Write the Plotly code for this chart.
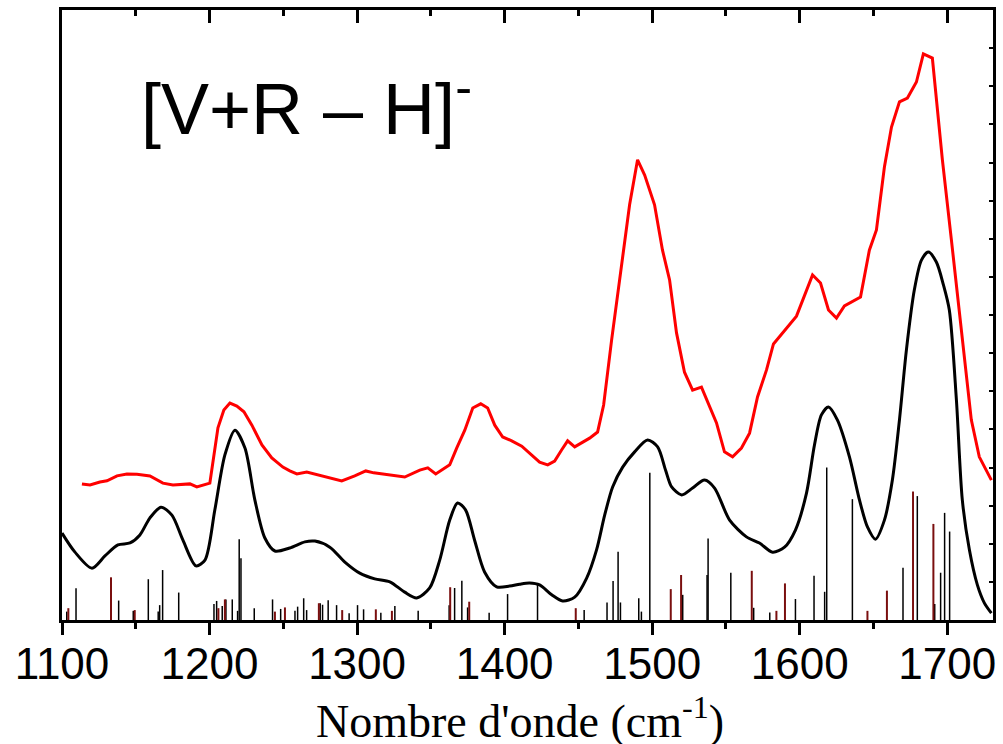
import plotly.graph_objects as go

# ---- data (wavenumber cm-1, arbitrary intensity) ----
calc_wn = [1100.0, 1108.8, 1120.3, 1129.1, 1137.9, 1146.1, 1152.8, 1159.6, 1167.1, 1174.5,
           1181.9, 1190.8, 1196.9, 1203.6, 1210.4, 1217.2, 1224.0, 1230.7, 1237.5, 1244.3,
           1254.4, 1264.6, 1271.4, 1281.5, 1291.7, 1301.8, 1312.0, 1322.2, 1332.3, 1340.4,
           1349.2, 1356.0, 1362.8, 1368.1, 1373.5, 1379.6, 1386.4, 1394.6, 1403.4, 1410.2,
           1416.9, 1423.7, 1431.9, 1439.3, 1447.5, 1455.6, 1462.3, 1467.8, 1473.2, 1480.0,
           1488.1, 1496.9, 1503.7, 1509.1, 1513.2, 1520.0, 1527.4, 1535.5, 1542.3, 1552.5,
           1563.9, 1572.7, 1581.6, 1589.7, 1597.1, 1604.6, 1610.0, 1614.7, 1619.5, 1625.5,
           1633.7, 1640.5, 1645.9, 1651.3, 1657.4, 1662.8, 1667.6, 1672.3, 1677.7, 1682.5,
           1687.2, 1692.6, 1697.4, 1701.4, 1706.2, 1710.2, 1715.0, 1720.4, 1725.1, 1729.9]
calc_int = [2.28, 1.78, 1.36, 1.68, 1.97, 2.02, 2.23, 2.68, 2.96, 2.75,
            2.10, 1.42, 1.57, 2.89, 4.33, 4.98, 4.51, 3.15, 2.15, 1.81,
            1.89, 2.05, 2.07, 1.91, 1.52, 1.23, 1.08, 1.00, 0.73, 0.58,
            0.84, 1.57, 2.62, 3.07, 2.89, 2.10, 1.26, 0.87, 0.89, 0.94,
            0.97, 0.92, 0.66, 0.50, 0.60, 1.10, 1.84, 2.75, 3.49, 4.01,
            4.41, 4.72, 4.54, 3.93, 3.49, 3.28, 3.46, 3.67, 3.46, 2.62,
            2.18, 2.02, 1.78, 1.91, 2.36, 3.33, 4.59, 5.38, 5.59, 5.25,
            4.28, 3.15, 2.44, 2.12, 2.62, 3.67, 5.25, 7.08, 8.66, 9.44,
            9.65, 9.39, 8.79, 8.13, 5.77, 3.15, 1.84, 0.92, 0.45, 0.18]

exp_wn = [1113.5, 1119.0, 1125.7, 1130.5, 1137.3, 1144.0, 1150.8, 1159.6, 1168.4, 1175.2,
          1186.7, 1191.4, 1200.2, 1205.7, 1209.7, 1213.8, 1218.5, 1223.3, 1228.7, 1235.5,
          1242.2, 1249.7, 1254.4, 1259.2, 1265.9, 1276.8, 1283.5, 1289.6, 1298.4, 1305.9,
          1311.3, 1332.3, 1342.5, 1347.9, 1353.3, 1362.8, 1367.5, 1373.0, 1378.4, 1383.8,
          1388.5, 1393.3, 1398.7, 1404.8, 1411.6, 1418.3, 1423.7, 1429.2, 1433.9, 1438.6,
          1442.7, 1447.5, 1452.2, 1457.6, 1463.0, 1467.1, 1472.5, 1477.9, 1484.7, 1490.1,
          1494.9, 1501.6, 1507.0, 1511.8, 1516.5, 1521.9, 1527.4, 1533.4, 1538.9, 1543.6,
          1549.0, 1554.5, 1560.5, 1566.0, 1571.4, 1577.5, 1582.2, 1597.8, 1608.7, 1614.1,
          1619.5, 1624.9, 1630.3, 1641.2, 1647.2, 1652.0, 1657.4, 1662.2, 1667.6, 1673.0,
          1679.1, 1683.8, 1689.9, 1696.7, 1702.8, 1716.3, 1721.7, 1729.9]
exp_int = [3.57, 3.54, 3.62, 3.65, 3.78, 3.83, 3.82, 3.78, 3.59, 3.54,
           3.57, 3.49, 3.59, 5.04, 5.51, 5.69, 5.61, 5.46, 5.11, 4.59,
           4.25, 4.01, 3.91, 3.83, 3.88, 3.78, 3.70, 3.65, 3.78, 3.91,
           3.86, 3.75, 3.93, 3.99, 3.83, 4.07, 4.51, 4.98, 5.56, 5.67,
           5.56, 5.11, 4.80, 4.70, 4.56, 4.33, 4.14, 4.07, 4.17, 4.46,
           4.70, 4.54, 4.64, 4.77, 4.93, 5.64, 7.34, 8.92, 10.89, 12.07,
           11.67, 10.89, 9.70, 8.92, 7.53, 6.50, 6.03, 6.11, 5.59, 5.17,
           4.41, 4.28, 4.51, 4.90, 5.85, 6.56, 7.24, 7.97, 9.05, 8.84,
           8.13, 7.92, 8.24, 8.47, 9.70, 10.23, 11.88, 12.93, 13.59, 13.69,
           14.11, 14.85, 14.74, 12.07, 9.97, 5.25, 4.28, 3.67]

stick_k_wn = [1103.2, 1109.5, 1138.4, 1148.3, 1158.5, 1165.2, 1166.2, 1168.2, 1179.1, 1203.0,
              1204.8, 1208.6, 1211.1, 1215.4, 1219.0, 1220.1, 1221.3, 1230.3, 1242.7, 1248.2,
              1257.9, 1259.7, 1263.8, 1265.8, 1275.0, 1276.6, 1280.4, 1286.1, 1294.6, 1300.3,
              1304.4, 1316.1, 1325.6, 1341.4, 1362.4, 1366.1, 1371.0, 1374.9, 1389.5, 1402.0,
              1422.3, 1453.9, 1469.4, 1473.5, 1476.9, 1478.5, 1490.9, 1492.7, 1498.4, 1520.7,
              1537.2, 1537.9, 1553.3, 1568.8, 1579.7, 1597.1, 1609.7, 1616.9, 1618.3, 1635.7,
              1670.0, 1679.7, 1691.5, 1695.5, 1698.2, 1701.6]
stick_k_int = [0.22, 0.83, 0.51, 0.24, 1.07, 0.22, 0.39, 1.31, 0.72, 0.42,
               0.50, 0.37, 0.54, 0.54, 0.24, 2.12, 1.62, 0.31, 0.54, 0.29,
               0.24, 0.35, 0.57, 0.26, 0.44, 0.40, 0.52, 0.39, 0.18, 0.39,
               0.28, 0.19, 0.37, 0.24, 0.39, 0.84, 1.03, 0.33, 0.19, 0.68,
               0.92, 0.26, 0.46, 1.02, 1.79, 0.46, 0.57, 0.22, 3.86, 0.66,
               1.18, 2.14, 1.24, 0.32, 0.20, 0.55, 1.16, 0.74, 4.00, 3.17,
               1.37, 3.25, 0.42, 1.24, 2.81, 2.32]

stick_r_wn = [1104.3, 1133.2, 1149.3, 1206.0, 1210.4, 1244.3, 1251.1, 1274.1, 1289.9, 1312.7,
              1323.6, 1363.1, 1376.0, 1448.2, 1512.6, 1519.6, 1567.5, 1584.2, 1590.0, 1645.9,
              1659.1, 1676.8, 1690.6]
stick_r_int = [0.31, 1.12, 0.26, 0.31, 0.54, 0.22, 0.33, 0.44, 0.26, 0.28,
               0.24, 0.86, 0.48, 0.31, 0.81, 1.18, 1.29, 0.24, 0.96, 0.24,
               0.77, 3.37, 2.52]

x_ticks = [1100, 1200, 1300, 1400, 1500, 1600, 1700]
x_range = [1100, 1731]
y_range = [0, 16]


def sticks(wn, h):
    xs, ys = [], []
    for w, v in zip(wn, h):
        xs += [w, w, None]
        ys += [0, v, None]
    return xs, ys


fig = go.Figure()
kx, ky = sticks(stick_k_wn, stick_k_int)
rx, ry = sticks(stick_r_wn, stick_r_int)
fig.add_trace(go.Scatter(x=kx, y=ky, mode="lines", line=dict(color="black", width=1.5),
                         hoverinfo="skip", showlegend=False))
fig.add_trace(go.Scatter(x=rx, y=ry, mode="lines", line=dict(color="#7a0f0f", width=2),
                         hoverinfo="skip", showlegend=False))
fig.add_trace(go.Scatter(x=calc_wn, y=calc_int, mode="lines",
                         line=dict(color="black", width=3, shape="spline", smoothing=0.8),
                         showlegend=False))
fig.add_trace(go.Scatter(x=exp_wn, y=exp_int, mode="lines",
                         line=dict(color="#ff0000", width=3), showlegend=False))
# invisible trace to anchor mirror axes
fig.add_trace(go.Scatter(x=[x_range[0]], y=[0], xaxis="x2", yaxis="y2", mode="markers",
                         marker=dict(opacity=0), hoverinfo="skip", showlegend=False))

axis_font = dict(family="Liberation Sans, Arial", size=44, color="black")

fig.update_layout(
    width=1003, height=744,
    margin=dict(l=62, r=10, t=10, b=124),
    paper_bgcolor="white", plot_bgcolor="white",
    xaxis=dict(range=x_range, tickvals=x_ticks, ticks="outside", ticklen=12, tickwidth=2.5,
               tickcolor="black", showline=True, linewidth=2.5, linecolor="black",
               showgrid=False, zeroline=False, tickfont=axis_font, automargin=False,
               ticklabelstandoff=-9,
               minor=dict(dtick=50, tick0=1100, ticks="outside", ticklen=6, tickwidth=2.5,
                          tickcolor="black", showgrid=False)),
    xaxis2=dict(range=x_range, overlaying="x", side="top", tickvals=x_ticks, ticks="inside",
                ticklen=13, tickwidth=2.5, tickcolor="black", showline=True, linewidth=2.5,
                linecolor="black", showticklabels=False, showgrid=False, zeroline=False,
                automargin=False,
                minor=dict(dtick=50, tick0=1100, ticks="inside", ticklen=6, tickwidth=2.5,
                           tickcolor="black", showgrid=False)),
    yaxis=dict(range=y_range, showline=True, linewidth=2.5, linecolor="black", ticks="",
               showticklabels=False, showgrid=False, zeroline=False, automargin=False),
    yaxis2=dict(range=y_range, overlaying="y", side="right", dtick=1, ticks="inside",
                ticklen=4, tickwidth=2, tickcolor="black", showline=True, linewidth=2.5,
                linecolor="black", showticklabels=False, showgrid=False, zeroline=False,
                automargin=False),
    annotations=[
        dict(text="[V+R \u2013 H]<sup>-</sup>", xref="paper", yref="paper",
             x=0.083, y=0.847, xanchor="left", yanchor="middle", showarrow=False,
             font=dict(family="Liberation Sans, Arial", size=72, color="black")),
        dict(text="Nombre d'onde (cm<sup>-1</sup>)", xref="paper", yref="paper",
             x=0.492, y=-0.161, xanchor="center", yanchor="middle", showarrow=False,
             font=dict(family="Liberation Serif, Times New Roman", size=46, color="black")),
    ],
)

fig.write_html("out.html", config={"displayModeBar": False},
               post_script="document.body.style.margin='0';document.body.style.overflow='hidden';")
